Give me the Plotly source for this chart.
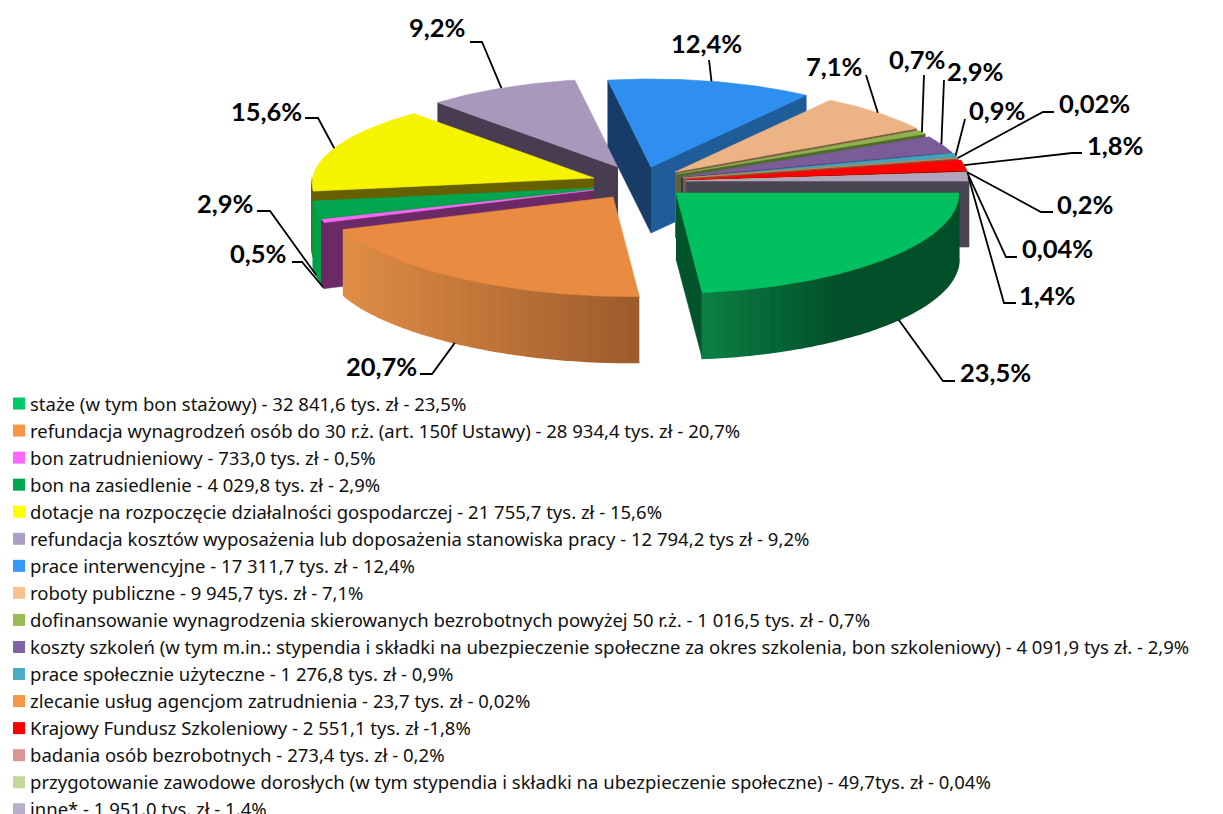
import numpy as np
import plotly.graph_objects as go

W, H = 1223, 814

# ---- data ----
CATEGORIES = [
    "staże (w tym bon stażowy) - 32 841,6 tys. zł - 23,5%",
    "refundacja wynagrodzeń osób do 30 r.ż. (art. 150f Ustawy) - 28 934,4 tys. zł - 20,7%",
    "bon zatrudnieniowy - 733,0 tys. zł - 0,5%",
    "bon na zasiedlenie - 4 029,8 tys. zł - 2,9%",
    "dotacje na rozpoczęcie działalności gospodarczej - 21 755,7 tys. zł - 15,6%",
    "refundacja kosztów wyposażenia lub doposażenia stanowiska pracy - 12 794,2 tys zł - 9,2%",
    "prace interwencyjne - 17 311,7 tys. zł - 12,4%",
    "roboty publiczne - 9 945,7 tys. zł - 7,1%",
    "dofinansowanie wynagrodzenia skierowanych bezrobotnych powyżej 50 r.ż. - 1 016,5 tys. zł - 0,7%",
    "koszty szkoleń (w tym m.in.: stypendia i składki na ubezpieczenie społeczne za okres szkolenia, bon szkoleniowy) - 4 091,9 tys zł. - 2,9%",
    "prace społecznie użyteczne - 1 276,8 tys. zł - 0,9%",
    "zlecanie usług agencjom zatrudnienia - 23,7 tys. zł - 0,02%",
    "Krajowy Fundusz Szkoleniowy - 2 551,1 tys. zł -1,8%",
    "badania osób bezrobotnych - 273,4 tys. zł - 0,2%",
    "przygotowanie zawodowe dorosłych (w tym stypendia i składki na ubezpieczenie społeczne) - 49,7tys. zł - 0,04%",
    "inne* - 1 951,0 tys. zł - 1,4%",
]
VALUES = [32841.6, 28934.4, 733.0, 4029.8, 21755.7, 12794.2, 17311.7, 9945.7,
          1016.5, 4091.9, 1276.8, 23.7, 2551.1, 273.4, 49.7, 1951.0]
PERCENT_LABELS = ["23,5%", "20,7%", "0,5%", "2,9%", "15,6%", "9,2%", "12,4%", "7,1%",
                  "0,7%", "2,9%", "0,9%", "0,02%", "1,8%", "0,2%", "0,04%", "1,4%"]

# ---- styles ----
LEGEND_COLORS = ["#00c864", "#f79646", "#ff66ff", "#00a650", "#ffff00", "#ac9fc4", "#3399ff", "#fac090",
                 "#9bbb59", "#8064a2", "#4bacc6", "#f79646", "#ff0000", "#d99694", "#c3d69b", "#b7aec9"]
TOP_COLORS = ["#00c060", "#ea8b42", "#ff66f5", "#00a64f", "#f5f300", "#a898bb", "#2f8ff0", "#ecb384",
              "#8fb24f", "#7a5c9b", "#41a3bc", "#ea8b42", "#ff0000", "#d99694", "#c3d69b", "#b0a5bd"]
WALL_COLORS = ["#02542b", "#9c5b2b", "#6b2a66", "#00a04c", "#666000", "#473c50", "#183c68", "#7a5a40",
               "#4f6a2c", "#3e3058", "#1f5a6a", "#7a5a40", "#7a0000", "#6a4a48", "#66704c", "#4a4553"]
END_WALL_BLUE = "#1f5c9a"
# explosion offsets of each slice from the pie centre, in pixels
CENTER = (640, 180)
PULL_X = [36, -27, -46, -46, -46, -22, 11, 35, 37, 41, 43, 43, 46, 46, 46, 46]
PULL_Y = [13, 17, 10, 8, -2, -13, -13, -8, -6, -3, -2, -2, 0, 1, 1, 1]
DEPTH = 66
# perspective: radii change with the angle
RAD_T = [0, 84, 160, 171, 227, 260, 305, 331, 344, 360]
RAD_A = [283, 285, 288, 284, 268, 268, 268, 276, 281, 283]
RAD_B = [96, 100, 92, 90, 87, 88, 88, 90, 92, 94]
# painter order: back to front
DRAW_ORDER = [5, 6, 7, 8, 9, 10, 11, 12, 13, 14, 15, 4, 3, 2, 1, 0]
# gradient of the rims, by slice: light colour, dark colour, fraction of the width where dark is reached
GRADIENTS = {0: ("#0c8044", "#02502a", 0.52), 1: ("#e08d45", "#9c5b2b", 1.0)}
# label centre and leader elbow points (layout, in pixels)
LABEL_POS = [(995, 372), (381, 366), (258, 253), (225, 203), (266, 111), (437, 27), (706, 43), (834, 66),
             (917, 59), (975, 71), (997, 110), (1094, 103), (1115, 145), (1085, 204), (1057, 248), (1047, 295)]
LEADER_ELBOWS = [
    [(955, 381), (943, 381)], [(420, 374), (432, 374)], [(292, 262), (302, 262)], [(257, 211), (270, 211)],
    [(305, 118), (318, 118)], [(470, 42), (482, 42)], [(709, 60)], [(866, 75)],
    [(924, 75)], [(944, 80)], [(965, 119)], [(1054, 112), (1043, 112)],
    [(1082, 153), (1072, 153)], [(1053, 212), (1041, 212)], [(1017, 257), (1006, 257)], [(1016, 303), (1004, 303)],
]
LEADER_END_ANGLE_SHIFT = {0: -4.0, 1: 1.5}
LEADER_ON_RIM = {0, 1, 2, 3}

LEGEND_FONT = "Noto Sans"
LABEL_FONT = "Lato"
LEGEND_SIZE = 18.5
LABEL_SIZE = 25.5


def radii(t):
    return np.interp(t, RAD_T, RAD_A), np.interp(t, RAD_T, RAD_B)


def arc_points(i, t):
    a, b = radii(t)
    r = np.radians(t)
    return (CENTER[0] + PULL_X[i] + a * np.cos(r), CENTER[1] + PULL_Y[i] + b * np.sin(r))


def lerp(c1, c2, f):
    p = [int(c1[k:k + 2], 16) for k in (1, 3, 5)]
    q = [int(c2[k:k + 2], 16) for k in (1, 3, 5)]
    return "rgb(%d,%d,%d)" % tuple(round(u + (v - u) * f) for u, v in zip(p, q))


vals = np.array(VALUES)
cum = np.concatenate([[0], np.cumsum(vals)]) / vals.sum() * 360
fig = go.Figure()


def poly(xs, ys, color, width=0.6):
    fig.add_trace(go.Scatter(x=list(xs), y=list(ys), mode="lines", fill="toself", fillcolor=color,
                             line=dict(color=color, width=width), showlegend=False, hoverinfo="skip"))


for i in DRAW_ORDER:
    t0, t1 = cum[i], cum[i + 1]
    ax, ay = CENTER[0] + PULL_X[i], CENTER[1] + PULL_Y[i]
    # visible cut faces
    for t, visible, col in ((t0, np.cos(np.radians(t0)) < 0, WALL_COLORS[i]),
                            (t1, np.cos(np.radians(t1)) > 0, END_WALL_BLUE if i == 6 else WALL_COLORS[i])):
        if visible:
            px, py = arc_points(i, t)
            poly([ax, px, px, ax], [ay, py, py + DEPTH, ay + DEPTH], col)
    # outer rim for the front half
    lo, hi = max(t0, 0), min(t1, 180)
    if hi > lo:
        n = 36 if i in GRADIENTS else 6
        ts = np.linspace(lo, hi, n + 1)
        pts = [arc_points(i, t) for t in ts]
        xmin, xmax = min(p[0] for p in pts), max(p[0] for p in pts)
        for k in range(n):
            (x0, y0), (x1, y1) = pts[k], pts[k + 1]
            if i in GRADIENTS:
                c1, c2, stop = GRADIENTS[i]
                f = ((x0 + x1) / 2 - xmin) / (xmax - xmin)
                col = lerp(c1, c2, min(f / stop, 1.0))
            else:
                col = WALL_COLORS[i] if i != 3 else "#00a04c"
            poly([x0, x1, x1, x0], [y0, y1, y1 + DEPTH, y0 + DEPTH], col, width=1.5)
    # top face
    ts = np.linspace(t0, t1, max(3, int((t1 - t0) * 2)))
    pts = [arc_points(i, t) for t in ts]
    poly([ax] + [p[0] for p in pts] + [ax], [ay] + [p[1] for p in pts] + [ay], TOP_COLORS[i])

# leader lines and labels
for i in range(len(VALUES)):
    mid = (cum[i] + cum[i + 1]) / 2 + LEADER_END_ANGLE_SHIFT.get(i, 0)
    ex, ey = arc_points(i, mid)
    if i in LEADER_ON_RIM:
        ey += DEPTH
    path = LEADER_ELBOWS[i] + [(ex, ey)]
    fig.add_trace(go.Scatter(x=[p[0] for p in path], y=[p[1] for p in path], mode="lines",
                             line=dict(color="#000000", width=1.8), showlegend=False, hoverinfo="skip"))
    fig.add_annotation(x=LABEL_POS[i][0], y=LABEL_POS[i][1], text=PERCENT_LABELS[i], showarrow=False,
                       xref="x", yref="y", font=dict(family=LABEL_FONT, size=LABEL_SIZE, color="#000000", weight=700))

# legend
for name, color in zip(CATEGORIES, LEGEND_COLORS):
    fig.add_trace(go.Scatter(x=[None], y=[None], mode="markers", name=name, legendgroup=name,
                             marker=dict(symbol="square", size=12, color=color)))

fig.update_layout(
    width=W, height=H, margin=dict(l=0, r=0, t=0, b=0, autoexpand=False), paper_bgcolor="white",
    plot_bgcolor="white", hovermode=False,
    xaxis=dict(range=[0, W], visible=False, domain=[0, 1], fixedrange=True),
    yaxis=dict(range=[H, 0], visible=False, domain=[0, 1], fixedrange=True),
    legend=dict(x=-10 / W, y=1 - 385 / H, xanchor="left", yanchor="top", traceorder="normal",
                bgcolor="rgba(0,0,0,0)", font=dict(family=LEGEND_FONT, size=LEGEND_SIZE, color="#111111"),
                itemwidth=30, maxheight=500),
    font=dict(family=LABEL_FONT),
)
POST = """
document.body.style.margin = '0';
function shiftSwatches() {
  document.querySelectorAll('.legend .legendsymbols').forEach(function (g) {
    g.setAttribute('transform', 'translate(9,0)');
  });
}
shiftSwatches();
setTimeout(shiftSwatches, 60);
"""
fig.write_html("out.html", config=dict(displayModeBar=False, responsive=False), post_script=POST)
